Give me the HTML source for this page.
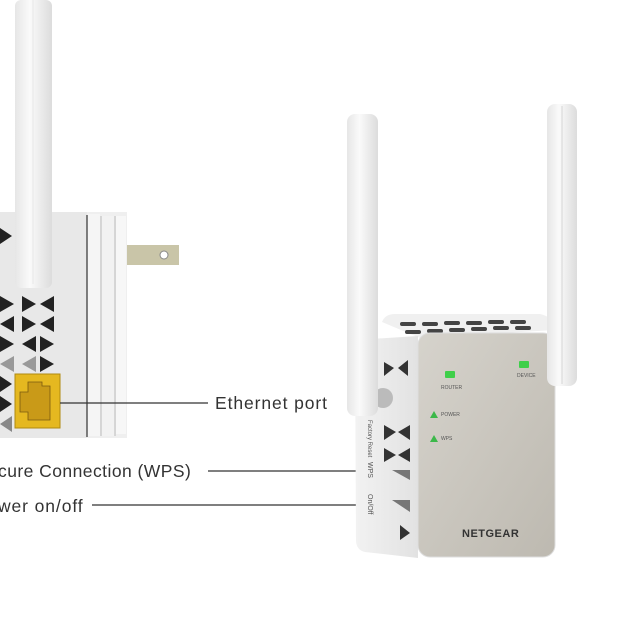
<!DOCTYPE html>
<html><head><meta charset="utf-8"><style>
html,body{margin:0;padding:0;background:#fff;width:632px;height:632px;overflow:hidden}
svg{display:block}
text{font-family:"Liberation Sans",sans-serif}
</style></head><body>
<svg width="632" height="632" viewBox="0 0 632 632">
<defs>
<linearGradient id="ant" x1="0" x2="1"><stop offset="0" stop-color="#e6e6e6"/><stop offset="0.4" stop-color="#fafafa"/><stop offset="1" stop-color="#dcdcdc"/></linearGradient>
<linearGradient id="face" x1="0" y1="0" x2="1" y2="1"><stop offset="0" stop-color="#d6d3cc"/><stop offset="1" stop-color="#bdb9b0"/></linearGradient>
<linearGradient id="side" x1="0" x2="1"><stop offset="0" stop-color="#f2f2f2"/><stop offset="1" stop-color="#e2e2e2"/></linearGradient>
</defs>
<rect x="0" y="212" width="127" height="226" fill="#efefef"/>
<rect x="0" y="212" width="87" height="226" fill="#e8e8e8"/>
<rect x="88" y="214" width="12" height="222" fill="#f5f5f5"/>
<rect x="101" y="216" width="14" height="220" fill="#f2f2f2"/>
<rect x="116" y="216" width="10" height="218" fill="#f7f7f7"/>
<line x1="87" y1="215" x2="87" y2="437" stroke="#333" stroke-width="1.2"/>
<line x1="101" y1="216" x2="101" y2="436" stroke="#bbb"/>
<line x1="115" y1="216" x2="115" y2="436" stroke="#bbb"/>
<rect x="127" y="245" width="52" height="20" fill="#c9c5a8"/>
<circle cx="164" cy="255" r="4" fill="#fff" stroke="#888"/>
<g fill="#222">
<polygon points="0,228 12,236 0,244"/>
<polygon points="0,296 14,304 0,312"/><polygon points="22,296 36,304 22,312"/><polygon points="54,296 40,304 54,312"/>
<polygon points="14,316 0,324 14,332"/><polygon points="22,316 36,324 22,332"/><polygon points="54,316 40,324 54,332"/>
<polygon points="0,336 14,344 0,352"/><polygon points="36,336 22,344 36,352"/><polygon points="40,336 54,344 40,352"/>
<polygon points="14,356 0,364 14,372" fill="#999"/><polygon points="36,356 22,364 36,372" fill="#999"/><polygon points="40,356 54,364 40,372"/>
<polygon points="0,376 12,384 0,392"/><polygon points="0,396 12,404 0,412"/><polygon points="12,416 0,424 12,432" fill="#888"/>
</g>
<rect x="15" y="374" width="45" height="54" fill="#e5b820" stroke="#b08a10"/>
<path d="M28 382 h14 v4 h8 v34 h-22 v-8 h-8 v-20 h8z" fill="#c99a18" stroke="#7a5a10" stroke-width="0.8"/>
<rect x="15" y="0" width="37" height="288" rx="6" fill="url(#ant)"/>
<line x1="33" y1="0" x2="33" y2="284" stroke="#e8e8e8"/>
<line x1="60" y1="403" x2="208" y2="403" stroke="#333" stroke-width="1.2"/>
<text x="215" y="409" font-size="17.5" letter-spacing="0.9" fill="#333">Ethernet port</text>
<text x="-2" y="477" font-size="17.5" letter-spacing="0.45" fill="#333">cure Connection (WPS)</text>
<line x1="208" y1="471" x2="360" y2="471" stroke="#333" stroke-width="1.2"/>
<text x="-2" y="512" font-size="17.5" letter-spacing="0.9" fill="#333">wer on/off</text>
<line x1="92" y1="505" x2="360" y2="505" stroke="#333" stroke-width="1.2"/>
<path d="M382 322 Q385 314 395 314 L540 314 Q552 316 555 330 L420 338 Z" fill="#f0f0f0"/>
<g fill="#444">
<rect x="400" y="322" width="16" height="4" rx="2"/><rect x="422" y="322" width="16" height="4" rx="2"/><rect x="444" y="321" width="16" height="4" rx="2"/><rect x="466" y="321" width="16" height="4" rx="2"/><rect x="488" y="320" width="16" height="4" rx="2"/><rect x="510" y="320" width="16" height="4" rx="2"/>
<rect x="405" y="330" width="16" height="4" rx="2"/><rect x="427" y="329" width="16" height="4" rx="2"/><rect x="449" y="328" width="16" height="4" rx="2"/><rect x="471" y="327" width="16" height="4" rx="2"/><rect x="493" y="326" width="16" height="4" rx="2"/><rect x="515" y="326" width="16" height="4" rx="2"/>
</g>
<path d="M355 340 L418 336 L418 558 L365 552 Q356 550 356 540 Z" fill="url(#side)"/>
<g fill="#333">
<polygon points="384,362 394,368 384,376"/><polygon points="408,360 398,368 408,376"/>
<polygon points="384,425 396,432 384,440"/><polygon points="410,425 398,432 410,440"/>
<polygon points="384,448 396,455 384,462"/><polygon points="410,448 398,455 410,462"/>
<polygon points="392,470 410,480 410,470" fill="#777"/><polygon points="392,500 410,512 410,500" fill="#777"/>
<polygon points="400,525 410,533 400,540"/>
</g>
<circle cx="383" cy="398" r="10" fill="#bbb"/>
<text x="368" y="420" font-size="6" fill="#555" transform="rotate(90 368 420)">Factory Reset</text>
<text x="368" y="462" font-size="7" fill="#555" transform="rotate(90 368 462)">WPS</text>
<text x="368" y="494" font-size="7" fill="#555" transform="rotate(90 368 494)">On/Off</text>
<rect x="418" y="333" width="137" height="224" rx="12" fill="url(#face)" stroke="#ddd"/>
<rect x="445" y="371" width="10" height="7" rx="1" fill="#3fcf4a"/>
<text x="441" y="389" font-size="5" fill="#555">ROUTER</text>
<rect x="519" y="361" width="10" height="7" rx="1" fill="#3fcf4a"/>
<text x="517" y="377" font-size="5" fill="#555">DEVICE</text>
<polygon points="430,418 434,411 438,418" fill="#3cb84a"/><text x="441" y="416" font-size="5" fill="#555">POWER</text>
<polygon points="430,442 434,435 438,442" fill="#3cb84a"/><text x="441" y="440" font-size="5" fill="#555">WPS</text>
<text x="462" y="537" font-size="11" font-weight="bold" fill="#333" letter-spacing="0.5">NETGEAR</text>
<rect x="347" y="114" width="31" height="302" rx="8" fill="url(#ant)"/>
<rect x="547" y="104" width="30" height="282" rx="8" fill="url(#ant)"/>
<line x1="562" y1="106" x2="562" y2="384" stroke="#d5d5d5"/>
</svg>
</body></html>
